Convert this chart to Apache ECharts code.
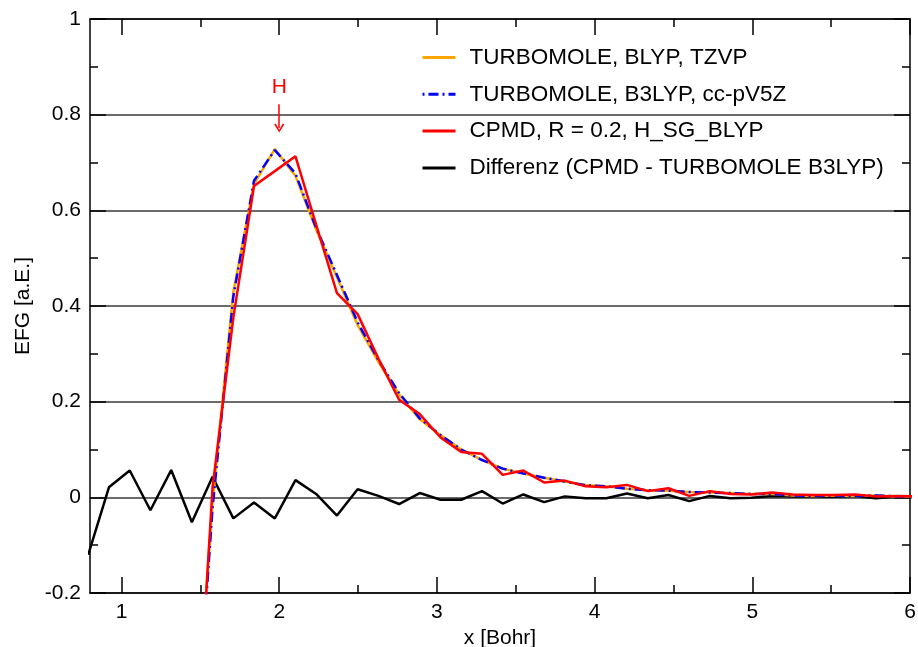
<!DOCTYPE html>
<html>
<head>
<meta charset="utf-8">
<script src="https://cdn.jsdelivr.net/npm/echarts@6/dist/echarts.min.js"></script>
<style>html,body{margin:0;padding:0;background:#fff}#c{width:918px;height:647px}</style>
</head>
<body>
<div id="c"></div>
<script>
// x positions (Bohr)
var xAll = [0.789, 0.920, 1.052, 1.183, 1.315, 1.446, 1.577, 1.709, 1.840, 1.972,
            2.103, 2.234, 2.366, 2.497, 2.629, 2.760, 2.891, 3.023, 3.154, 3.286,
            3.417, 3.548, 3.680, 3.811, 3.943, 4.074, 4.205, 4.337, 4.468, 4.600,
            4.731, 4.862, 4.994, 5.125, 5.257, 5.388, 5.519, 5.651, 5.782, 5.914, 6.045];
// curves start at x = 1.446 (index 5)
var tmBlypTzvp = [-0.620, -0.010, 0.430, 0.655, 0.728, 0.672, 0.560, 0.460, 0.360, 0.283,
                  0.215, 0.163, 0.130, 0.100, 0.078, 0.060, 0.050, 0.041, 0.033, 0.026,
                  0.023, 0.018, 0.015, 0.014, 0.011, 0.010, 0.009, 0.007, 0.007, 0.004,
                  0.003, 0.004, 0.003, 0.004, 0.002, 0.002];
var tmB3lypV5z = [-0.648, -0.023, 0.420, 0.662, 0.726, 0.677, 0.563, 0.465, 0.366, 0.287,
                  0.218, 0.165, 0.130, 0.100, 0.078, 0.060, 0.050, 0.041, 0.033, 0.025,
                  0.023, 0.018, 0.015, 0.014, 0.011, 0.010, 0.009, 0.007, 0.007, 0.004,
                  0.003, 0.004, 0.003, 0.004, 0.002, 0.002];
var cpmd = [-0.700, 0.020, 0.376, 0.651, 0.682, 0.713, 0.570, 0.427, 0.383, 0.290,
            0.204, 0.174, 0.125, 0.095, 0.091, 0.047, 0.056, 0.031, 0.035, 0.023,
            0.021, 0.026, 0.013, 0.019, 0.003, 0.013, 0.007, 0.006, 0.010, 0.006,
            0.005, 0.005, 0.006, 0.002, 0.003, 0.002];
var diff = [-0.120, 0.021, 0.056, -0.027, 0.057, -0.052, 0.043, -0.044, -0.011, -0.044,
            0.036, 0.007, -0.038, 0.017, 0.003, -0.014, 0.009, -0.005, -0.005, 0.013,
            -0.013, 0.006, -0.010, 0.002, -0.002, -0.002, 0.008, -0.002, 0.005, -0.008,
            0.003, -0.002, -0.001, 0.003, 0.002, 0.002, 0.001, 0.003, -0.002, 0.001, 0.000];
var xMajor = [1, 2, 3, 4, 5, 6];
var xMinor = [1.5, 2.5, 3.5, 4.5, 5.5];
var names = ['TURBOMOLE, BLYP, TZVP', 'TURBOMOLE, B3LYP, cc-pV5Z',
             'CPMD, R = 0.2, H_SG_BLYP', 'Differenz (CPMD - TURBOMOLE B3LYP)'];

function pairs(xs, ys, off) { return ys.map(function (y, i) { return [xs[i + off], y]; }); }

var FONT = 'Liberation Sans, Arial, Helvetica, sans-serif';
var chart = echarts.init(document.getElementById('c'), null, { renderer: 'canvas' });

function xAx(pos, ticks, len, showLine, showLabel, extra) {
  var o = {
    type: 'value', position: pos, min: 0.8, max: 6,
    axisLine: { show: showLine, onZero: false, lineStyle: { color: '#000', width: 1.5 } },
    axisTick: { show: true, inside: true, length: len, customValues: ticks, lineStyle: { color: '#000', width: 1.5 } },
    axisLabel: { show: showLabel, customValues: ticks, fontSize: 21, color: '#000', fontFamily: FONT, margin: 9 },
    splitLine: { show: false }
  };
  for (var k in extra) o[k] = extra[k];
  return o;
}

var option = {
  animation: false,
  backgroundColor: '#fff',
  grid: { left: 90, right: 8, top: 19, bottom: 54, containLabel: false, outerBoundsMode: 'none' },
  xAxis: [
    xAx('bottom', xMajor, 16, true, true, {
      name: 'x [Bohr]', nameLocation: 'middle', nameGap: 31,
      nameTextStyle: { fontSize: 21, color: '#000', fontFamily: FONT }
    }),
    xAx('bottom', xMinor, 8, false, false, {}),
    xAx('top', xMajor, 16, true, false, {}),
    xAx('top', xMinor, 8, false, false, {})
  ],
  yAxis: [
    {
      type: 'value', position: 'left', min: -0.2, max: 1, interval: 0.2,
      name: 'EFG [a.E.]', nameLocation: 'middle', nameGap: 53,
      nameTextStyle: { fontSize: 21, color: '#000', fontFamily: FONT },
      axisLine: { show: true, onZero: false, lineStyle: { color: '#000', width: 1.5 } },
      axisTick: { show: true, inside: true, length: 16, lineStyle: { color: '#000', width: 1.5 } },
      minorTick: { show: true, splitNumber: 2, length: 8, lineStyle: { color: '#000', width: 1.5 } },
      axisLabel: { fontSize: 21, color: '#000', fontFamily: FONT, margin: 9 },
      splitLine: { show: true, lineStyle: { color: '#3a3a3a', width: 1.5 } }
    },
    {
      type: 'value', position: 'right', min: -0.2, max: 1, interval: 0.2,
      axisLine: { show: true, onZero: false, lineStyle: { color: '#000', width: 1.5 } },
      axisTick: { show: true, inside: true, length: 16, lineStyle: { color: '#000', width: 1.5 } },
      minorTick: { show: true, splitNumber: 2, length: 8, lineStyle: { color: '#000', width: 1.5 } },
      axisLabel: { show: false },
      splitLine: { show: false }
    }
  ],
  legend: {
    orient: 'vertical', left: 416, top: 41,
    itemWidth: 33, itemHeight: 20, itemGap: 13.8,
    itemStyle: { opacity: 0 },
    lineStyle: { width: 3 },
    data: names,
    textStyle: { fontSize: 22.5, color: '#000', fontFamily: FONT, padding: [0, 0, 0, 9] }
  },
  series: [
    {
      name: names[0], type: 'line', xAxisIndex: 0, yAxisIndex: 0, symbol: 'none', z: 3,
      data: pairs(xAll, tmBlypTzvp, 5),
      lineStyle: { color: '#ffa500', width: 2.5 }, itemStyle: { color: '#ffa500' }
    },
    {
      name: names[1], type: 'line', xAxisIndex: 0, yAxisIndex: 0, symbol: 'none', z: 4,
      data: pairs(xAll, tmB3lypV5z, 5),
      lineStyle: { color: '#0000ff', width: 2.5, type: [2, 4, 10, 4] }, itemStyle: { color: '#0000ff' }
    },
    {
      name: names[2], type: 'line', xAxisIndex: 0, yAxisIndex: 0, symbol: 'none', z: 5,
      data: pairs(xAll, cpmd, 5),
      lineStyle: { color: '#ff0000', width: 2.5 }, itemStyle: { color: '#ff0000' },
      markPoint: {
        symbol: 'circle', symbolSize: 0, silent: true,
        label: { show: true, formatter: 'H', color: '#ff0000', fontSize: 21, fontFamily: FONT, position: 'inside' },
        data: [{ coord: [2, 0.858] }]
      },
      markLine: {
        silent: true, symbol: ['none', 'path://M5,0 L10,9 L8.6,10 L5,3 L1.4,10 L0,9 Z'],
        symbolSize: [10, 9],
        label: { show: false },
        lineStyle: { color: '#ff0000', width: 1.5, type: 'solid' },
        data: [[{ coord: [2, 0.822] }, { coord: [2, 0.772] }]]
      }
    },
    {
      name: names[3], type: 'line', xAxisIndex: 0, yAxisIndex: 0, symbol: 'none', z: 2,
      data: pairs(xAll, diff, 0),
      lineStyle: { color: '#000', width: 2.5 }, itemStyle: { color: '#000' }
    }
  ]
};
chart.setOption(option);
</script>
</body>
</html>
